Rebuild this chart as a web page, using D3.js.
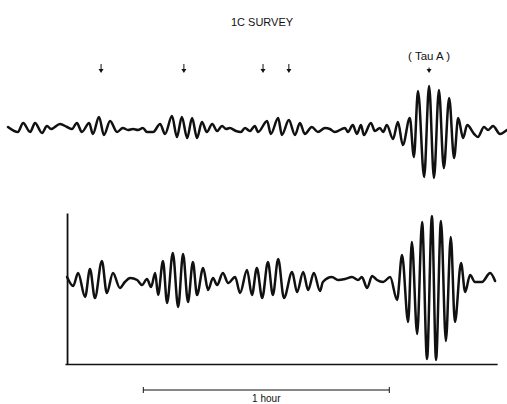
<!DOCTYPE html>
<html>
<head>
<meta charset="utf-8">
<script src="https://cdn.jsdelivr.net/npm/d3@7"></script>
<style>
  html, body { margin: 0; padding: 0; background: #fff; }
  svg { display: block; }
  text { font-family: "Liberation Sans", Arial, Helvetica, sans-serif; fill: #111; }
</style>
</head>
<body>
<svg id="chart" width="507" height="404"></svg>
<script>
// ---- Data (time in minutes, amplitude in arbitrary units) ----
const title = "1C SURVEY";
const sourceLabel = "( Tau A )";
const scaleLabel = "1 hour";
const scaleBarMinutes = [33, 93];              // 1 hour bar
const arrowTimes = [22.7, 42.9, 62.2, 68.5];   // marked sources
const tauATime = 102.7;

// upper trace: [minute, amplitude]
const upperTrace = [
  [0,0.1],[2.4,-0.4],[3.7,0.5],[5.4,-0.4],[6.6,0.5],[8.3,-0.5],[9.5,0.2],[10.5,-0.1],
  [12.7,0.4],[14.4,0.1],[15.6,-0.1],[16.8,0.5],[18.0,-0.4],[19.8,0.5],[20.7,-0.6],
  [22.2,1.1],[23.4,-0.7],[24.9,0.7],[26.6,-0.4],[28.0,0],[29.3,-0.2],[30.5,-0.1],
  [31.7,-0.2],[32.9,0],[33.9,-0.4],[35.4,-0.4],[37.1,0.4],[38.3,-0.6],[40.0,1.2],
  [41.2,-0.9],[42.4,1.1],[43.7,-1.0],[44.9,1.0],[46.1,-1.0],[47.3,0.6],[48.5,-0.4],
  [49.8,0.4],[51.0,-0.3],[52.2,0.2],[53.2,-0.1],[54.1,0],[55.6,-0.3],[56.8,-0.4],
  [57.8,0],[59.0,-0.3],[60.2,0.2],[61.0,-0.4],[63.2,0.7],[64.1,-0.6],[65.9,1.0],
  [66.8,-0.7],[68.5,0.8],[70.0,-0.7],[71.2,0.5],[72.4,-0.6],[74.1,0.1],[75.6,-0.4],
  [77.3,0],[78.5,-0.1],[79.7,-0.4],[82.2,0],[82.9,-0.4],[84.1,0.3],[85.1,-0.6],
  [86.1,0.3],[86.8,-0.7],[88.5,0.5],[89.5,-0.3],[90.7,0],[91.5,-0.4],[92.4,0.3],
  [93.9,-1.1],[95.1,0.6],[96.3,-1.7],[98.0,1.0],[99.0,-2.9],[100.0,3.7],[101.5,-4.9],
  [102.7,4.2],[103.9,-5.0],[105.1,3.8],[106.3,-4.0],[107.6,3.0],[108.8,-3.0],
  [109.8,1.0],[111.0,-1.0],[112.0,0.3],[113.7,-0.6],[114.6,-0.9],[116.1,0.1],
  [117.1,-0.2],[118.3,0.2],[120.0,-0.6],[121.7,-0.2]
];

// lower trace: [minute, amplitude]
const lowerTrace = [
  [14.4,0.3],[15.9,-0.6],[17.1,0.7],[18.8,-1.7],[20.0,1.1],[21.2,-1.8],[22.9,1.9],
  [24.1,-1.3],[25.6,0.7],[27.3,-0.8],[28.5,-0.2],[29.8,0.2],[31.5,0],[32.7,-0.5],
  [33.9,0.1],[34.9,-0.7],[35.9,0.7],[36.6,-1.5],[37.8,1.9],[38.8,-2.3],[40.2,2.7],
  [41.5,-2.7],[42.7,2.6],[43.9,-2.2],[45.1,1.8],[46.1,-1.5],[47.6,1.2],[48.8,-1.0],
  [50.0,0.2],[51.0,-0.5],[52.4,0.7],[53.7,-0.3],[55.4,0.3],[56.6,-1.3],[58.3,1.0],
  [59.5,-1.5],[60.7,1.2],[62.0,-1.8],[63.4,1.8],[64.6,-1.5],[65.9,2.1],[67.3,-1.8],
  [69.3,0.8],[70.5,-1.2],[72.0,0.8],[73.2,-1.0],[74.6,0.7],[76.1,-1.1],[76.8,-0.2],
  [79.0,0.3],[80.5,0],[82.2,0.1],[83.9,0.3],[85.4,0],[86.3,0.3],[87.6,-0.8],
  [88.8,0.4],[90.0,0],[91.5,-0.2],[93.2,0.3],[94.9,-2.0],[96.1,2.5],[97.6,-4.2],
  [98.5,3.8],[99.8,-5.4],[101.0,5.8],[102.2,-7.9],[103.4,6.4],[104.4,-8.0],
  [105.6,5.9],[106.8,-6.1],[108.0,4.3],[109.0,-4.2],[110.5,1.7],[111.5,-1.2],
  [112.7,0.5],[113.9,-0.2],[115.6,-0.2],[117.6,0.7],[118.8,-0.1]
];

// lower panel frame extent (minutes / amplitude)
const frameTime = [13.9, 119.3];
const frameAxisTime = 14.4;
const frameAmp = [-8.4, 6.7];

// ---- Drawing ----
const svg = d3.select("#chart");
const ink = "#111";

const x = d3.scaleLinear().domain([0, 120]).range([8, 500]);
const yUpper = d3.scaleLinear().domain([-1, 1]).range([138, 118]);
const yLower = d3.scaleLinear().domain([-1, 1]).range([290, 270]);

// title
svg.append("text")
  .attr("x", 262).attr("y", 26)
  .attr("text-anchor", "middle")
  .attr("font-size", 11)
  .text(title);

// Tau A label
svg.append("text")
  .attr("x", x(tauATime)).attr("y", 60)
  .attr("text-anchor", "middle")
  .attr("font-size", 11.5)
  .text(sourceLabel);

// arrows
function arrow(t, y0, y1) {
  const cx = x(t);
  svg.append("line")
    .attr("x1", cx).attr("x2", cx)
    .attr("y1", y0).attr("y2", y1 - 2)
    .attr("stroke", ink).attr("stroke-width", 1);
  svg.append("path")
    .attr("d", `M${cx - 2.5},${y1 - 4} L${cx + 2.5},${y1 - 4} L${cx},${y1} Z`)
    .attr("fill", ink);
}
arrowTimes.forEach(t => arrow(t, 64, 73));
arrow(tauATime, 67.5, 73);

// traces
const line = (ys) => d3.line()
  .x(d => x(d[0]))
  .y(d => ys(d[1]))
  .curve(d3.curveMonotoneX);

svg.append("path")
  .datum(upperTrace)
  .attr("d", line(yUpper))
  .attr("fill", "none")
  .attr("stroke", ink)
  .attr("stroke-width", 2.5)
  .attr("stroke-linejoin", "round")
  .attr("stroke-linecap", "round");

svg.append("path")
  .datum(lowerTrace)
  .attr("d", line(yLower))
  .attr("fill", "none")
  .attr("stroke", ink)
  .attr("stroke-width", 2.5)
  .attr("stroke-linejoin", "round")
  .attr("stroke-linecap", "round");

// lower panel frame (axes)
const axisX = d3.scaleLinear().domain(frameTime).range([x(frameTime[0]), x(frameTime[1])]);
const axisY = d3.scaleLinear().domain(frameAmp).range([yLower(frameAmp[0]), yLower(frameAmp[1])]);

svg.append("g")
  .attr("transform", `translate(0,${axisY(frameAmp[0])})`)
  .call(d3.axisBottom(axisX).tickValues([]).tickSizeOuter(0))
  .call(g => g.select(".domain").attr("stroke", ink).attr("stroke-width", 1.6));

svg.append("g")
  .attr("transform", `translate(${x(frameAxisTime)},0)`)
  .call(d3.axisLeft(axisY).tickValues([]).tickSizeOuter(0))
  .call(g => g.select(".domain").attr("stroke", ink).attr("stroke-width", 1.8));

// 1 hour scale bar
const barY = 390;
const bx0 = x(scaleBarMinutes[0]), bx1 = x(scaleBarMinutes[1]);
svg.append("line")
  .attr("x1", bx0).attr("x2", bx1).attr("y1", barY).attr("y2", barY)
  .attr("stroke", ink).attr("stroke-width", 1);
[bx0, bx1].forEach(bx => {
  svg.append("line")
    .attr("x1", bx).attr("x2", bx).attr("y1", barY - 3).attr("y2", barY + 3)
    .attr("stroke", ink).attr("stroke-width", 1);
});
svg.append("text")
  .attr("x", (bx0 + bx1) / 2).attr("y", 402)
  .attr("text-anchor", "middle")
  .attr("font-size", 10)
  .text(scaleLabel);
</script>
</body>
</html>
